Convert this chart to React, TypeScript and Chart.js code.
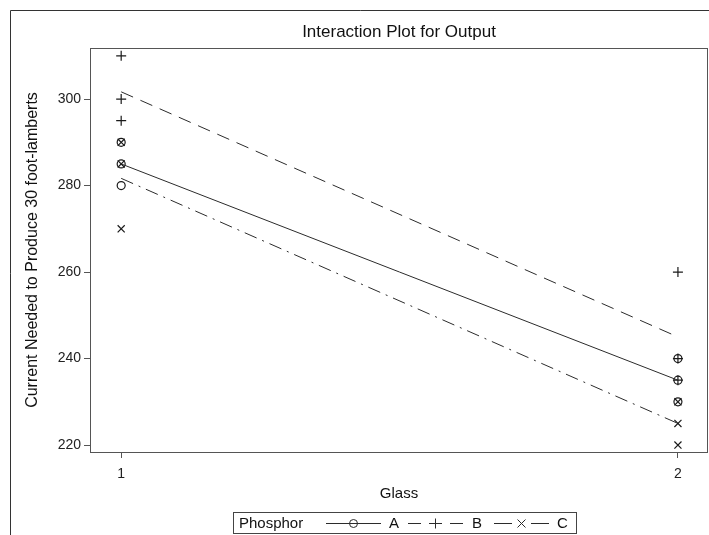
import React, { useEffect, useRef } from "react";
import { Chart, registerables } from "chart.js";

Chart.register(...registerables);

// Glass levels on the x axis and the three phosphor types
const glassLevels = [1, 2];
const phosphorTypes = ["A", "B", "C"];

// Observed current (three replicates per cell)
const glass1A = [280, 290, 285];
const glass2A = [230, 235, 240];
const glass1B = [300, 310, 295];
const glass2B = [260, 240, 235];
const glass1C = [270, 285, 290];
const glass2C = [230, 225, 220];

const yTickValues = [220, 240, 260, 280, 300];

const FONT = "'Liberation Sans', Arial, Helvetica, sans-serif";
const INK = "#2b2b2b";

const mean = (arr: number[]) => arr.reduce((a, b) => a + b, 0) / arr.length;

const points = (g1: number[], g2: number[]) => [
  ...g1.map((y) => ({ x: glassLevels[0], y })),
  ...g2.map((y) => ({ x: glassLevels[1], y })),
];

const meanLine = (g1: number[], g2: number[]) => [
  { x: glassLevels[0], y: mean(g1) },
  { x: glassLevels[1], y: mean(g2) },
];

const lineDashes: number[][] = [[], [13, 8], [13, 6, 2, 6]];
// shorter legend samples: the dot of the dash-dot pattern sits under the marker
const legendDashes: number[][] = [[], [13, 8], [18, 19]];
const markerStyles = ["circle", "cross", "crossRot"];

function drawMarker(ctx: CanvasRenderingContext2D, style: string, x: number, y: number) {
  ctx.beginPath();
  if (style === "circle") {
    ctx.arc(x, y, 4, 0, Math.PI * 2);
  } else if (style === "cross") {
    ctx.moveTo(x - 5, y);
    ctx.lineTo(x + 5, y);
    ctx.moveTo(x, y - 5);
    ctx.lineTo(x, y + 5);
  } else {
    ctx.moveTo(x - 4, y - 4);
    ctx.lineTo(x + 4, y + 4);
    ctx.moveTo(x + 4, y - 4);
    ctx.lineTo(x - 4, y + 4);
  }
  ctx.stroke();
}

const framePlugin = {
  id: "frameAndLegend",
  afterDraw(chart: any) {
    const { ctx, chartArea } = chart;
    ctx.save();
    // outer frame (open on the right and bottom)
    ctx.strokeStyle = "#333";
    ctx.lineWidth = 1;
    ctx.beginPath();
    ctx.moveTo(10.5, 600);
    ctx.lineTo(10.5, 10.5);
    ctx.lineTo(800, 10.5);
    ctx.stroke();

    // plot area border
    ctx.strokeStyle = "#555";
    ctx.strokeRect(
      Math.round(chartArea.left) + 0.5,
      Math.round(chartArea.top) + 0.5,
      Math.round(chartArea.right - chartArea.left) - 1,
      Math.round(chartArea.bottom - chartArea.top)
    );

    // title
    ctx.fillStyle = "#111";
    ctx.font = `17px ${FONT}`;
    ctx.textAlign = "center";
    ctx.textBaseline = "middle";
    ctx.fillText("Interaction Plot for Output", (chartArea.left + chartArea.right) / 2, 32);

    // legend
    const ly = 523.5;
    ctx.strokeStyle = "#444";
    ctx.strokeRect(233.5, 512.5, 343, 21);
    ctx.font = `15px ${FONT}`;
    ctx.textAlign = "left";
    ctx.fillStyle = "#111";
    ctx.fillText("Phosphor", 239, ly);

    const sampleStarts = [326, 408, 494];
    const labelStarts = [389, 472, 557];
    ctx.strokeStyle = INK;
    phosphorTypes.forEach((name, i) => {
      const x0 = sampleStarts[i];
      const x1 = x0 + 55;
      ctx.setLineDash(legendDashes[i]);
      ctx.beginPath();
      ctx.moveTo(x0, ly);
      ctx.lineTo(x1, ly);
      ctx.stroke();
      ctx.setLineDash([]);
      drawMarker(ctx, markerStyles[i], (x0 + x1) / 2, ly);
      ctx.fillText(name, labelStarts[i], ly);
    });
    ctx.restore();
  },
};

export default function App() {
  const canvasRef = useRef<HTMLCanvasElement | null>(null);

  useEffect(() => {
    if (!canvasRef.current) return;
    const obs = [
      [glass1A, glass2A],
      [glass1B, glass2B],
      [glass1C, glass2C],
    ];

    const datasets: any[] = [];
    obs.forEach(([g1, g2], i) => {
      datasets.push({
        label: phosphorTypes[i],
        data: meanLine(g1, g2),
        showLine: true,
        borderColor: INK,
        borderWidth: 1,
        borderDash: lineDashes[i],
        pointRadius: 0,
      });
    });
    obs.forEach(([g1, g2], i) => {
      datasets.push({
        label: phosphorTypes[i] + " obs",
        data: points(g1, g2),
        showLine: false,
        pointStyle: markerStyles[i],
        pointRadius: i === 0 ? 4 : 5,
        pointBorderWidth: 1.2,
        pointBorderColor: "#1a1a1a",
        pointBackgroundColor: "rgba(0,0,0,0)",
      });
    });

    const tickFont = { family: FONT, size: 14 };
    const titleFont = { family: FONT, size: 15 };

    const chart = new Chart(canvasRef.current, {
      type: "scatter",
      data: { datasets },
      plugins: [framePlugin],
      options: {
        animation: false,
        responsive: false,
        devicePixelRatio: 1,
        layout: { autoPadding: false, padding: { top: 48, right: 1, left: 0, bottom: 0 } },
        plugins: {
          legend: { display: false },
          title: { display: false },
          tooltip: { enabled: false },
        },
        scales: {
          x: {
            type: "linear",
            min: 0.944,
            max: 2.054,
            afterBuildTicks: (s: any) => {
              s.ticks = glassLevels.map((v) => ({ value: v }));
            },
            afterFit: (s: any) => {
              s.height = 83;
              s.paddingLeft = 0;
              s.paddingRight = 0;
            },
            grid: { drawOnChartArea: false, drawTicks: true, tickLength: 6, color: "#555" },
            border: { display: false },
            ticks: {
              autoSkip: false,
              maxRotation: 0,
              color: "#222",
              font: tickFont,
              padding: 8,
              callback: (v: any) => String(v),
            },
            title: {
              display: true,
              text: "Glass",
              color: "#111",
              font: titleFont,
              padding: { top: 0, bottom: 32 },
            },
          },
          y: {
            type: "linear",
            min: 218.4,
            max: 311.8,
            afterBuildTicks: (s: any) => {
              s.ticks = yTickValues.map((v) => ({ value: v }));
            },
            afterFit: (s: any) => {
              s.width = 90;
              s.paddingTop = 0;
              s.paddingBottom = 0;
            },
            grid: { drawOnChartArea: false, drawTicks: true, tickLength: 6, color: "#555" },
            border: { display: false },
            ticks: {
              autoSkip: false,
              color: "#222",
              font: tickFont,
              padding: 3,
              callback: (v: any) => String(v),
            },
            title: {
              display: true,
              text: "Current Needed to Produce 30 foot-lamberts",
              color: "#111",
              font: { family: FONT, size: 16 },
              padding: { top: 23, bottom: 0 },
            },
          },
        },
      },
    });
    return () => chart.destroy();
  }, []);

  return (
    <div style={{ position: "absolute", left: 0, top: 0, width: 709, height: 535, background: "#fff" }}>
      <canvas ref={canvasRef} width={709} height={535} />
    </div>
  );
}
